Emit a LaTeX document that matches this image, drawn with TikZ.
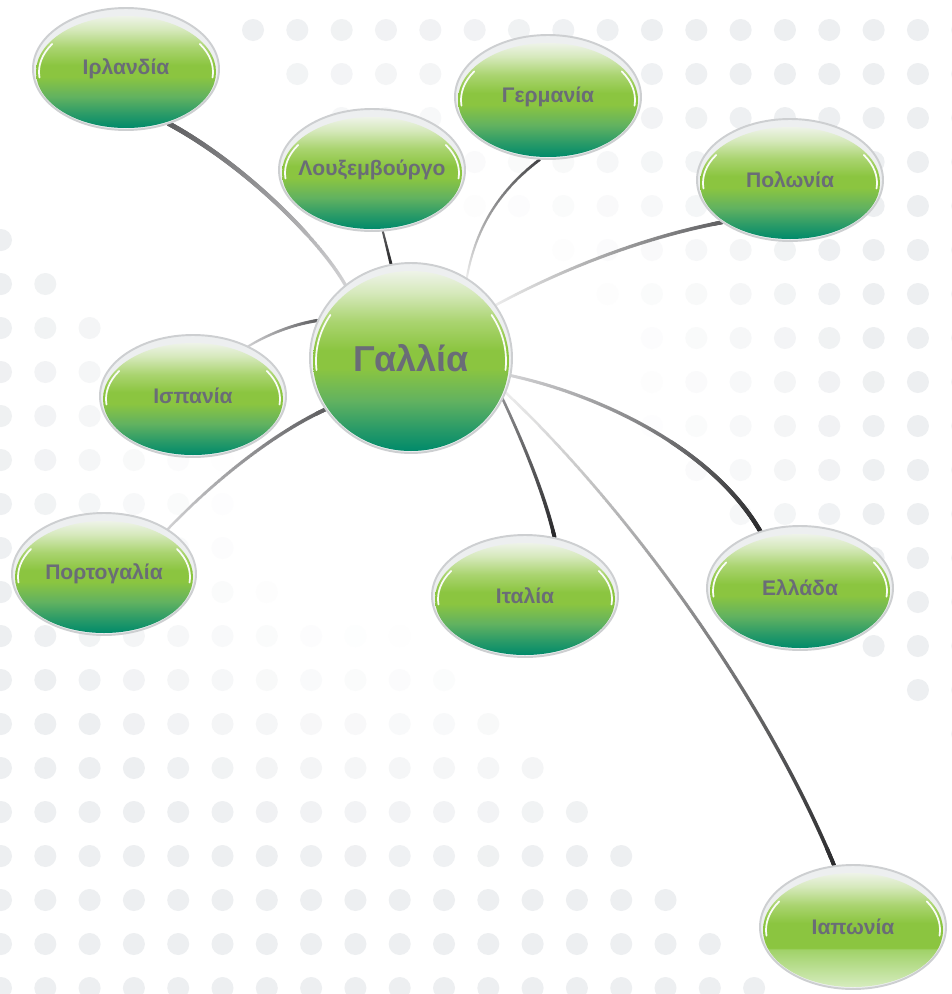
\documentclass[tikz,border=0pt]{standalone}
\usepackage{fontspec}
\setmainfont{Liberation Sans}
\usetikzlibrary{shapes.geometric}
\usetikzlibrary{decorations.markings}

\definecolor{dotgray}{RGB}{237,239,241}
\definecolor{rimgray}{RGB}{237,239,240}
\definecolor{rimline}{RGB}{205,207,209}
\definecolor{labelgray}{RGB}{106,108,119}
\definecolor{gdark}{RGB}{0,138,106}
\definecolor{gteal}{RGB}{40,154,104}
\definecolor{gmid}{RGB}{98,178,96}
\definecolor{ggreen}{RGB}{139,197,64}
\definecolor{glime}{RGB}{170,212,112}
\definecolor{gpale}{RGB}{214,233,188}
\definecolor{gtop}{RGB}{238,243,232}
\definecolor{gfadelow}{RGB}{160,210,104}
\definecolor{gfadebot}{RGB}{214,236,190}
\definecolor{linkpale}{RGB}{236,236,236}
\definecolor{linklight}{RGB}{210,210,212}
\definecolor{linkmid}{RGB}{140,140,142}
\definecolor{linkdim}{RGB}{95,95,97}
\definecolor{linkdark}{RGB}{68,68,70}
\definecolor{linkdeep}{RGB}{40,40,42}

\pgfdeclareverticalshading{bulbshade}{100bp}{color(0bp)=(gdark); color(25bp)=(gdark); color(31bp)=(gteal); color(39bp)=(gmid); color(48bp)=(ggreen); color(53bp)=(ggreen); color(61bp)=(glime); color(69bp)=(gpale); color(75bp)=(gtop); color(100bp)=(gtop)}
\pgfdeclareverticalshading{fadeshade}{100bp}{color(0bp)=(gfadebot); color(25bp)=(gfadebot); color(41.5bp)=(gfadelow); color(42bp)=(ggreen); color(53bp)=(ggreen); color(61bp)=(glime); color(69bp)=(gpale); color(75bp)=(gtop); color(100bp)=(gtop)}

\pgfdeclarelayer{dots}
\pgfdeclarelayer{links}
\pgfsetlayers{dots,links,main}

\tikzset{
    spot/.style={fill=dotgray!#1!white},
    rim/.style={fill=rimgray, draw=rimline, line width=1.1pt},
    bulb/.style={shading=bulbshade},
    bulbfaded/.style={shading=fadeshade},
    gloss/.style={white, line width=1pt, line cap=round, opacity=0.95},
    country/.style={ellipse, inner sep=0pt, text=labelgray, font=\bfseries\fontsize{12}{14}\selectfont},
    hub/.style={font=\bfseries\fontsize{20.5}{24}\selectfont},
    link/.style n args={3}{
        decoration={
            markings,
            mark=between positions 0 and 1 step 0.4pt with {
                \pgfmathtruncatemacro\linkpct{\pgfkeysvalueof{/pgf/decoration/mark info/distance from start}/\pgfdecoratedpathlength*100}
                \fill[#2!\linkpct!#1] (0,0) circle [radius=#3*(0.7+0.003*\linkpct)];
            }
        },
        decorate
    }
}

% name, x, y, rx, ry, shade, node options, label
\newcommand{\bubble}[8]{
	\fill[rim] (#2,#3) ellipse [x radius=#4, y radius=#5];
	\shade[#6] (#2,#3+3) ellipse [x radius=#4-3, y radius=#5-5];
	\draw[gloss] (#2,#3+3) ++(174:#4-6 and #5-8) arc [start angle=174, end angle=212, x radius=#4-6, y radius=#5-8];
	\draw[gloss] (#2,#3+3) ++(328:#4-6 and #5-8) arc [start angle=328, end angle=366, x radius=#4-6, y radius=#5-8];
	\node[country, #7, minimum width=#4*0.04cm, minimum height=#5*0.04cm] (#1) at (#2,#3) {#8};
}

\begin{document}
\begin{tikzpicture}[x=0.02cm, y=-0.02cm]
	\useasboundingbox (0,0) rectangle (951,994);

	\begin{pgfonlayer}{dots}
		\fill[white] (0,0) rectangle (951,994);

		% left and bottom dot field
		\foreach \j in {0,...,17} {
			\foreach \i in {0,...,\j} {
				\pgfmathsetmacro\dx{1+44.3*\i}
				\pgfmathsetmacro\dy{240+44*\j}
				\pgfmathsetmacro\fade{min(100,max(0,(veclen(\dx-430,\dy-430)-195)/2.6))}
				\fill[spot=\fade] (\dx,\dy) circle [radius=11];
			}
		}

		% top and right dot field
		\foreach \j in {-1,...,16} {
			\pgfmathtruncatemacro\istart{max(\j,0)}
			\foreach \i in {\istart,...,16} {
				\pgfmathsetmacro\dx{253+44.33*\i}
				\pgfmathsetmacro\dy{30+44*\j}
				\pgfmathsetmacro\fade{min(100,max(0,(veclen(\dx-430,\dy-430)-195)/2.6))}
				\fill[spot=\fade] (\dx,\dy) circle [radius=11];
			}
		}
	\end{pgfonlayer}

	% bubbles
	\bubble{irl}{126}{69}{93}{61}{bulb}{}{Ιρλανδία}
	\bubble{lux}{372}{170}{93}{61}{bulb}{}{Λουξεμβούργο}
	\bubble{ger}{548}{97}{93}{62}{bulb}{}{Γερμανία}
	\bubble{pol}{790}{180}{93}{61}{bulb}{}{Πολωνία}
	\bubble{gal}{411}{358}{101}{95}{bulb}{hub}{Γαλλία}
	\bubble{esp}{193}{396}{93}{61}{bulb}{}{Ισπανία}
	\bubble{por}{104}{574}{92}{61}{bulb}{}{Πορτογαλία}
	\bubble{ita}{525}{596}{93}{61}{bulb}{}{Ιταλία}
	\bubble{gre}{800}{588}{93}{62}{bulb}{}{Ελλάδα}
	\bubble{jap}{853}{927}{93}{62}{bulbfaded}{}{Ιαπωνία}

	% links, light end first
	\begin{pgfonlayer}{links}
		\path[link={linklight}{linkdim}{1.45pt}] (gal.132) .. controls (320,240) and (245,165) .. (irl.308);
		\path[link={linkdim}{linkdeep}{0.9pt}] (lux.280) -- (gal.102);
		\path[link={linkpale}{linkdark}{0.9pt}] (gal.55) .. controls (476,225) and (502,188) .. (ger.263);
		\path[link={linkpale}{linkdim}{1.15pt}] (gal.32) .. controls (570,265) and (650,236) .. (pol.212);
		\path[link={linklight}{linkdim}{1pt}] (esp.42) .. controls (270,333) and (295,324) .. (gal.158);
		\path[link={linklight}{linkdim}{1.15pt}] (por.35) .. controls (210,485) and (270,435) .. (gal.211);
		\path[link={linkmid}{linkdeep}{1.15pt}] (gal.336) .. controls (522,440) and (545,495) .. (ita.63);
		\path[link={linklight}{linkdeep}{1.3pt}] (gal.350) .. controls (600,395) and (712,448) .. (gre.125);
		\path[link={linkpale}{linkdeep}{1.15pt}] (gal.340) .. controls (620,500) and (762,690) .. (jap.107);
	\end{pgfonlayer}
\end{tikzpicture}
\end{document}
